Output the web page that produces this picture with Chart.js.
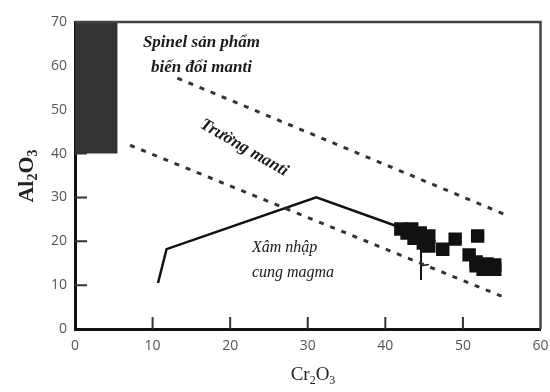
<!DOCTYPE html>
<html>
<head>
<meta charset="utf-8">
<script src="https://cdn.jsdelivr.net/npm/chart.js@4/dist/chart.umd.min.js"></script>
<style>
  html, body { margin: 0; padding: 0; background: #fff; }
  #wrap { width: 550px; height: 392px; }
</style>
</head>
<body>
<div id="wrap"><canvas id="chart"></canvas></div>
<script>
// axis ticks
const xTicks = [0, 10, 20, 30, 40, 50, 60];
const yTicks = [0, 10, 20, 30, 40, 50, 60, 70];

// dark box: spinel from mantle alteration
const boxX = [0, 5.5];
const boxTop = [70, 70];
const boxBottom = 40;

// dashed boundaries of the mantle field
const upperX = [13.2, 55.3];
const upperY = [57.2, 26.2];
const lowerX = [7.1, 55.5];
const lowerY = [41.9, 7.1];

// solid trend line
const trendX = [10.7, 11.8, 31.1, 42.5];
const trendY = [10.5, 18.2, 30, 22.8];
const stemX = [44.6, 44.6];
const stemY = [11.2, 19.5];
const spurX = [44.6, 45.6];
const spurY = [14.4, 14.7];

// sample points (Cr2O3, Al2O3)
const sampleCr = [42.0, 42.8, 43.4, 44.5, 45.6, 43.7, 44.9, 45.6, 47.4, 49.0, 51.9, 50.8, 51.7, 51.7, 53.1, 54.1, 54.1, 52.6];
const sampleAl = [22.8, 21.9, 22.8, 21.9, 21.2, 20.7, 19.6, 18.9, 18.2, 20.5, 21.2, 16.9, 15.3, 14.4, 14.8, 14.6, 13.6, 13.6];

const notes = [
    { lines: ["Spinel sản phẩm", "biến đổi manti"], x: 16.3, y: [65.3, 59.6], align: "center", size: 17, weight: "bold", angle: 0 },
    { lines: ["Trường manti"], x: 21.8, y: [41.3], align: "center", size: 17, weight: "bold", angle: 30 },
    { lines: ["Xâm nhập", "cung magma"], x: 22.8, y: [18.5, 12.9], align: "left", size: 16, weight: "normal", angle: 0 }
];

const pts = (xs, ys) => xs.map((x, i) => ({ x, y: ys[i] }));

const framePlugin = {
    id: "frame",
    afterDatasetsDraw(chart) {
        const { ctx, chartArea: a, scales } = chart;
        const xs = scales.x, ys = scales.y;
        ctx.save();

        // top and right border
        ctx.strokeStyle = "#444";
        ctx.lineWidth = 2.5;
        ctx.beginPath();
        ctx.moveTo(a.left, a.top);
        ctx.lineTo(a.right, a.top);
        ctx.lineTo(a.right, a.bottom);
        ctx.stroke();

        // inward tick marks
        ctx.strokeStyle = "#333";
        ctx.lineWidth = 2;
        ctx.beginPath();
        xTicks.slice(1, -1).forEach(v => {
            const px = xs.getPixelForValue(v);
            ctx.moveTo(px, a.bottom);
            ctx.lineTo(px, a.bottom - 12);
        });
        yTicks.slice(1, -1).forEach(v => {
            const py = ys.getPixelForValue(v);
            ctx.moveTo(a.left, py);
            ctx.lineTo(a.left + 12, py);
        });
        ctx.stroke();

        // annotations
        ctx.fillStyle = "#1a1a1a";
        notes.forEach(n => {
            ctx.font = `italic ${n.weight} ${n.size}px "Liberation Serif", serif`;
            ctx.textAlign = n.align;
            ctx.textBaseline = "middle";
            n.lines.forEach((t, i) => {
                ctx.save();
                ctx.translate(xs.getPixelForValue(n.x), ys.getPixelForValue(n.y[i]));
                ctx.rotate(n.angle * Math.PI / 180);
                ctx.fillText(t, 0, 0);
                ctx.restore();
            });
        });

        // axis titles with subscripts
        const drawSub = (parts, size, weight) => {
            const fontFor = p => `${weight} ${p.sub ? Math.round(size * 0.65) : size}px "Liberation Serif", serif`;
            let w = 0;
            parts.forEach(p => {
                ctx.font = fontFor(p);
                w += ctx.measureText(p.t).width;
            });
            let cx = -w / 2;
            parts.forEach(p => {
                ctx.font = fontFor(p);
                ctx.fillText(p.t, cx, p.sub ? size * 0.3 : 0);
                cx += ctx.measureText(p.t).width;
            });
        };
        ctx.fillStyle = "#222";
        ctx.textAlign = "left";
        ctx.textBaseline = "middle";

        ctx.save();
        ctx.translate(313, 375);
        drawSub([{ t: "Cr" }, { t: "2", sub: true }, { t: "O" }, { t: "3", sub: true }], 19, "normal");
        ctx.restore();

        ctx.save();
        ctx.translate(27, 176);
        ctx.rotate(-Math.PI / 2);
        drawSub([{ t: "Al" }, { t: "2", sub: true }, { t: "O" }, { t: "3", sub: true }], 22, "bold");
        ctx.restore();

        ctx.restore();
    }
};

new Chart(document.getElementById("chart"), {
    type: "scatter",
    data: {
        datasets: [
            {
                data: pts(boxX, boxTop),
                showLine: true,
                borderWidth: 0,
                pointRadius: 0,
                backgroundColor: "#333",
                borderColor: "#333",
                fill: { value: boxBottom }
            },
            {
                data: pts(upperX, upperY),
                showLine: true,
                borderColor: "#333",
                borderWidth: 3,
                borderDash: [5, 7],
                pointRadius: 0
            },
            {
                data: pts(lowerX, lowerY),
                showLine: true,
                borderColor: "#333",
                borderWidth: 3,
                borderDash: [5, 7],
                pointRadius: 0
            },
            {
                data: pts(trendX, trendY),
                showLine: true,
                borderColor: "#111",
                borderWidth: 2.5,
                pointRadius: 0
            },
            {
                data: pts(stemX, stemY),
                showLine: true,
                borderColor: "#111",
                borderWidth: 2,
                pointRadius: 0
            },
            {
                data: pts(spurX, spurY),
                showLine: true,
                borderColor: "#111",
                borderWidth: 1.5,
                pointRadius: 0
            },
            {
                data: pts(sampleCr, sampleAl),
                pointStyle: "rect",
                pointRadius: 9.5,
                backgroundColor: "#111",
                borderColor: "#111",
                borderWidth: 0
            }
        ]
    },
    options: {
        responsive: true,
        maintainAspectRatio: false,
        animation: false,
        layout: { padding: { left: 0, right: 8, top: 22, bottom: 0 } },
        plugins: {
            legend: { display: false },
            tooltip: { enabled: false }
        },
        scales: {
            x: {
                type: "linear",
                min: 0,
                max: 60,
                afterBuildTicks: s => { s.ticks = xTicks.map(v => ({ value: v })); },
                afterFit: s => { s.height = 63; s.paddingRight = 0; s.paddingLeft = 0; },
                grid: { display: false, drawTicks: false },
                border: { color: "#111", width: 3 },
                ticks: { color: "#555", padding: 9, font: { family: "Open Sans", size: 14 } }
            },
            y: {
                type: "linear",
                min: 0,
                max: 70,
                afterBuildTicks: s => { s.ticks = yTicks.map(v => ({ value: v })); },
                afterFit: s => { s.width = 75; s.paddingTop = 0; s.paddingBottom = 0; },
                grid: { display: false, drawTicks: false },
                border: { color: "#111", width: 3 },
                ticks: { color: "#555", padding: 8, font: { family: "Open Sans", size: 14 } }
            }
        }
    },
    plugins: [framePlugin]
});
</script>
</body>
</html>
